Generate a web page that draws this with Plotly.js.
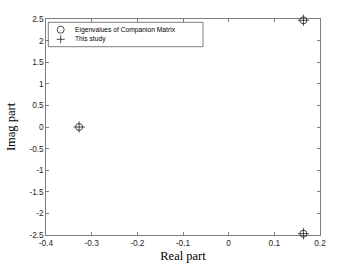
<!DOCTYPE html>
<html><head><meta charset="utf-8">
<script src="https://cdn.plot.ly/plotly-3.0.1.min.js"></script>
<style>html,body{margin:0;padding:0;background:#fff}</style>
</head><body><div id="c" style="width:354px;height:265px"></div>
<script>
const seriesNames = ['Eigenvalues of Companion Matrix', 'This study'];
const realCompanion = [-0.3275, 0.1637, 0.1637];
const imagCompanion = [0, 2.4705, -2.4705];
const realStudy = [-0.3275, 0.1637, 0.1637];
const imagStudy = [0, 2.4705, -2.4705];
const xTicks = [-0.4, -0.3, -0.2, -0.1, 0, 0.1, 0.2];
const xTickText = ['-0.4','-0.3','-0.2','-0.1','0','0.1','0.2'];
const yTicks = [-2.5,-2,-1.5,-1,-0.5,0,0.5,1,1.5,2,2.5];
const yTickText = ['-2.5','-2','-1.5','-1','-0.5','0','0.5','1','1.5','2','2.5'];

const ink = '#262626';
const axisCommon = {
  showgrid:false, zeroline:false, ticks:'inside', ticklen:3, tickwidth:0.6,
  tickcolor:ink, showline:true, linecolor:ink, linewidth:0.6,
  mirror:'ticks', tickfont:{family:'Liberation Sans, Arial, sans-serif', size:8.3, color:ink}
};
const data = [
  {x: realCompanion, y: imagCompanion, mode:'markers', type:'scatter', name:seriesNames[0],
   marker:{symbol:'circle-open', size:7, color:'#000', line:{width:0.7, color:'#000'}}, cliponaxis:false},
  {x: realStudy, y: imagStudy, mode:'markers', type:'scatter', name:seriesNames[1],
   marker:{symbol:'cross-thin-open', size:8, color:'#000', line:{width:0.7, color:'#000'}}, cliponaxis:false}
];

// custom compact legend (MATLAB-like)
const lg = {x0:0.0084, x1:0.573, y0:0.8718, y1:0.9847, iconX:0.0536, textX:0.0974, rows:[0.9505, 0.906]};
const shapes = [
  {type:'rect', xref:'paper', yref:'paper', x0:lg.x0, x1:lg.x1, y0:lg.y0, y1:lg.y1,
   line:{color:ink, width:0.6}, fillcolor:'#fff', layer:'above'},
  {type:'circle', xref:'paper', yref:'paper', xsizemode:'pixel', ysizemode:'pixel',
   xanchor:lg.iconX, yanchor:lg.rows[0], x0:-3.5, x1:3.5, y0:-3.5, y1:3.5,
   line:{color:'#000', width:0.7}, layer:'above'},
  {type:'line', xref:'paper', yref:'paper', xsizemode:'pixel', ysizemode:'pixel',
   xanchor:lg.iconX, yanchor:lg.rows[1], x0:-4, x1:4, y0:0, y1:0, line:{color:'#000', width:0.7}, layer:'above'},
  {type:'line', xref:'paper', yref:'paper', xsizemode:'pixel', ysizemode:'pixel',
   xanchor:lg.iconX, yanchor:lg.rows[1], x0:0, x1:0, y0:-4, y1:4, line:{color:'#000', width:0.7}, layer:'above'}
];
const annotations = seriesNames.map((n,i)=>({
  xref:'paper', yref:'paper', x:lg.textX, y:lg.rows[i], xanchor:'left', yanchor:'middle',
  text:n, showarrow:false, font:{family:'Liberation Sans, Arial, sans-serif', size:6.7, color:'#000'}
}));

const layout = {
  width:354, height:265, margin:{l:46, r:34, t:19, b:30},
  paper_bgcolor:'#fff', plot_bgcolor:'#fff', showlegend:false,
  xaxis: Object.assign({}, axisCommon, {range:[-0.4,0.2], tickmode:'array', tickvals:xTicks, ticktext:xTickText,
    title:{text:'Real part', font:{family:'Liberation Serif, Times New Roman, serif', size:12.5, color:'#000'}, standoff:4}}),
  yaxis: Object.assign({}, axisCommon, {range:[-2.5,2.5], tickmode:'array', tickvals:yTicks, ticktext:yTickText,
    title:{text:'Imag part', font:{family:'Liberation Serif, Times New Roman, serif', size:12.5, color:'#000'}, standoff:10}}),
  shapes: shapes, annotations: annotations
};
Plotly.newPlot('c', data, layout, {displayModeBar:false, staticPlot:true});
</script></body></html>
